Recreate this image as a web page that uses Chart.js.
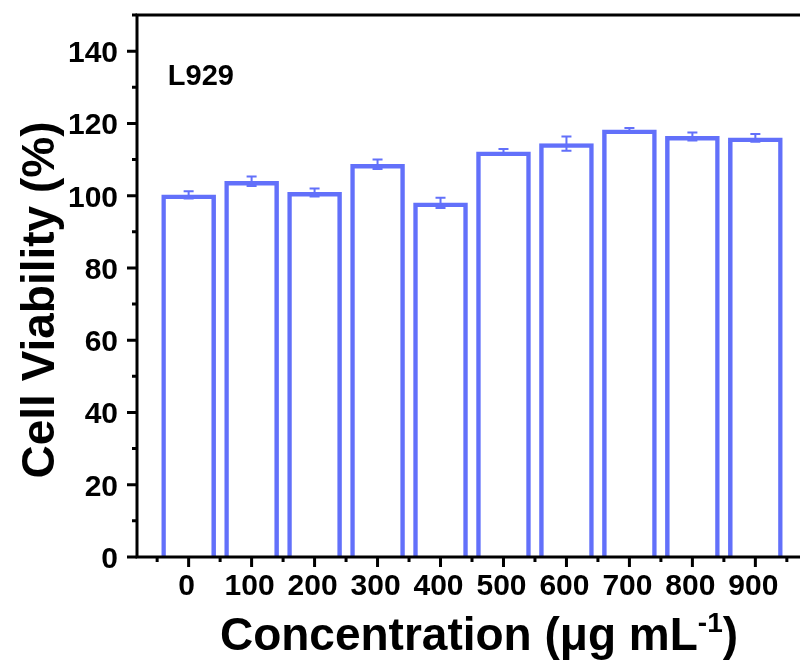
<!DOCTYPE html>
<html>
<head>
<meta charset="utf-8">
<script src="https://cdn.jsdelivr.net/npm/chart.js@4"></script>
<style>
  html, body { margin: 0; padding: 0; background: #fff; overflow: hidden; }
  #wrap { width: 830px; height: 664px; }
</style>
</head>
<body>
<div id="wrap"><canvas id="viabilityChart"></canvas></div>
<script>
// data
const concentrations = ['0', '100', '200', '300', '400', '500', '600', '700', '800', '900'];
const viability = [100.2, 104.0, 100.9, 108.7, 98.0, 112.1, 114.4, 118.2, 116.4, 116.0];
const viabilityErr = [1.0, 1.3, 1.1, 1.3, 1.4, 0.8, 2.0, 0.5, 1.1, 1.1];
const yTicks = [0, 20, 40, 60, 80, 100, 120, 140];
const yMinorTicks = [10, 30, 50, 70, 90, 110, 130, 150];
const cellLine = 'L929';

const blue = 'rgb(98, 112, 250)';
const fontFamily = '"Liberation Sans", Arial, sans-serif';

// error bars, axis frame, tick marks, tick labels and titles
const decorPlugin = {
    id: 'decor',
    afterDatasetsDraw(chart) {
        const ctx = chart.ctx;
        const xs = chart.scales.x;
        const ys = chart.scales.y;
        ctx.save();
        ctx.strokeStyle = blue;
        ctx.lineWidth = 2;
        viability.forEach((v, i) => {
            const px = xs.getPixelForValue(i);
            const top = ys.getPixelForValue(v + viabilityErr[i]);
            const bot = ys.getPixelForValue(v - viabilityErr[i]);
            ctx.beginPath();
            ctx.moveTo(px, top); ctx.lineTo(px, bot);
            ctx.moveTo(px - 5, top); ctx.lineTo(px + 5, top);
            ctx.moveTo(px - 5, bot); ctx.lineTo(px + 5, bot);
            ctx.stroke();
        });
        ctx.restore();
    },
    afterDraw(chart) {
        const ctx = chart.ctx;
        const area = chart.chartArea;
        const xs = chart.scales.x;
        const ys = chart.scales.y;
        ctx.save();
        ctx.strokeStyle = '#000';
        ctx.lineWidth = 3;
        ctx.strokeRect(area.left, area.top, area.right - area.left, area.bottom - area.top);

        ctx.beginPath();
        yTicks.forEach(t => {
            const py = ys.getPixelForValue(t);
            ctx.moveTo(area.left, py); ctx.lineTo(area.left - 10, py);
        });
        yMinorTicks.forEach(t => {
            const py = ys.getPixelForValue(t);
            ctx.moveTo(area.left, py); ctx.lineTo(area.left - 5, py);
        });
        concentrations.forEach((c, i) => {
            const px = xs.getPixelForValue(i);
            ctx.moveTo(px, area.bottom); ctx.lineTo(px, area.bottom + 10);
            const pm = xs.getPixelForValue(i - 0.5);
            ctx.moveTo(pm, area.bottom); ctx.lineTo(pm, area.bottom + 5);
        });
        const pl = xs.getPixelForValue(concentrations.length - 0.5);
        ctx.moveTo(pl, area.bottom); ctx.lineTo(pl, area.bottom + 5);
        ctx.stroke();

        ctx.fillStyle = '#000';
        ctx.textBaseline = 'alphabetic';

        // tick labels
        ctx.font = 'bold 30px ' + fontFamily;
        ctx.textAlign = 'right';
        yTicks.forEach(t => {
            ctx.fillText(String(t), area.left - 19, ys.getPixelForValue(t) + 11);
        });
        ctx.textAlign = 'center';
        concentrations.forEach((c, i) => {
            ctx.fillText(c, xs.getPixelForValue(i) - 2, area.bottom + 38);
        });

        // cell line label
        ctx.font = 'bold 29px ' + fontFamily;
        ctx.textAlign = 'left';
        ctx.fillText(cellLine, xs.getPixelForValue(-0.33), ys.getPixelForValue(130.5));

        // y title
        ctx.save();
        ctx.translate(54, 300);
        ctx.rotate(-Math.PI / 2);
        ctx.font = 'bold 46px ' + fontFamily;
        ctx.textAlign = 'center';
        ctx.fillText('Cell Viability (%)', 0, 0);
        ctx.restore();

        // x title with superscript
        const main = 'Concentration (\u03bcg mL';
        const sup = '-1';
        const tail = ')';
        ctx.textAlign = 'left';
        ctx.font = 'bold 46px ' + fontFamily;
        const wMain = ctx.measureText(main).width;
        const wTail = ctx.measureText(tail).width;
        ctx.font = 'bold 28px ' + fontFamily;
        const wSup = ctx.measureText(sup).width;
        const x0 = 479 - (wMain + wSup + wTail) / 2;
        const base = 650;
        ctx.font = 'bold 46px ' + fontFamily;
        ctx.fillText(main, x0, base);
        ctx.font = 'bold 28px ' + fontFamily;
        ctx.fillText(sup, x0 + wMain, base - 18);
        ctx.font = 'bold 46px ' + fontFamily;
        ctx.fillText(tail, x0 + wMain + wSup, base);
        ctx.restore();
    }
};

const viabilityChart = new Chart(
    document.getElementById('viabilityChart').getContext('2d'),
    {
        type: 'bar',
        data: {
            datasets: [{
                label: 'Cell Viability',
                data: viability.map((v, i) => ({ x: i, y: v })),
                backgroundColor: '#fff',
                borderColor: blue,
                borderWidth: 4.5,
                barThickness: 54
            }]
        },
        options: {
            responsive: true,
            maintainAspectRatio: false,
            animation: false,
            layout: {
                padding: { top: 15, right: 23, left: 0, bottom: 0 }
            },
            plugins: {
                legend: { display: false },
                tooltip: { enabled: false }
            },
            scales: {
                x: {
                    type: 'linear',
                    min: -0.82,
                    max: 9.82,
                    offset: false,
                    grid: { display: false, drawTicks: false, offset: false },
                    border: { display: false },
                    ticks: { display: false },
                    afterFit: scale => { scale.height = 107; }
                },
                y: {
                    min: 0,
                    max: 150,
                    grid: { display: false, drawTicks: false },
                    border: { display: false },
                    ticks: { display: false },
                    afterFit: scale => { scale.width = 137; }
                }
            }
        },
        plugins: [decorPlugin]
    }
);
</script>
</body>
</html>
